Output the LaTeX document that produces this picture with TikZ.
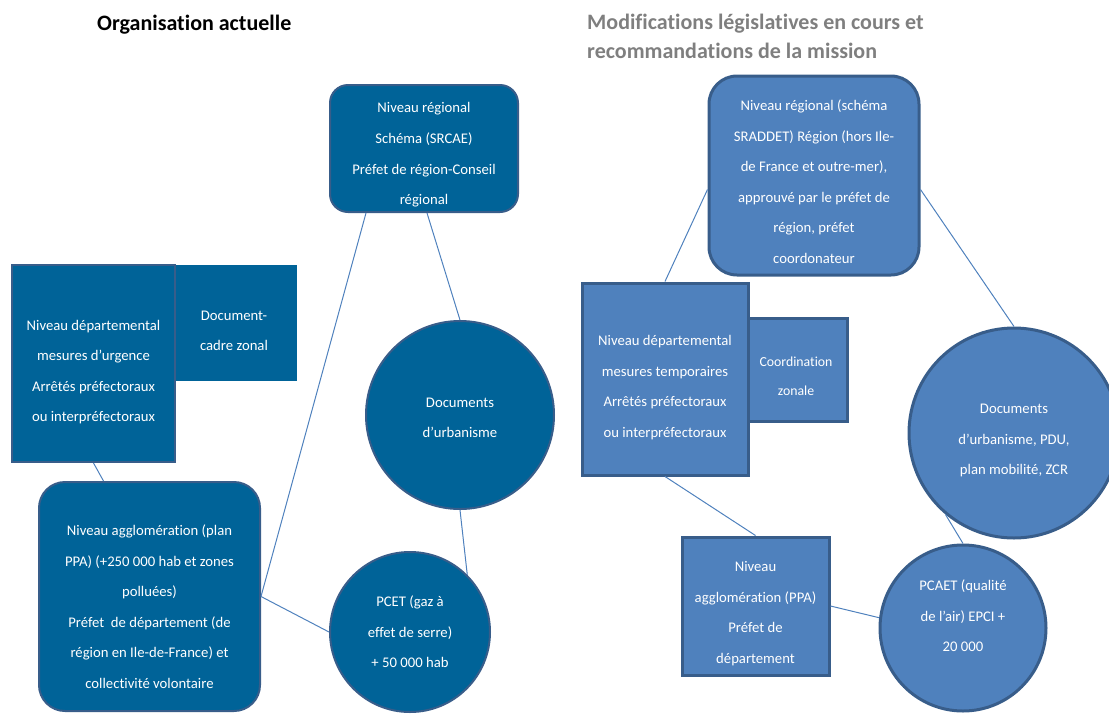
\documentclass[tikz,border=0pt]{standalone}
\usepackage{fontspec}
\setmainfont[Ligatures=NoCommon]{Carlito}
\usepackage{tikz}
\definecolor{darkfill}{RGB}{0,99,152}
\definecolor{lightfill}{RGB}{79,129,189}
\definecolor{edgecolor}{RGB}{56,93,138}
\definecolor{linkcolor}{RGB}{79,129,189}
\definecolor{titlegray}{RGB}{127,127,127}

\begin{document}
\begin{tikzpicture}[x=1pt, y=-1pt,
    box/.style={rectangle, text=white, align=center, inner sep=0pt, font=\fontsize{14.7}{30.6}\selectfont},
    oldbox/.style={box, fill=darkfill, draw=edgecolor, line width=2pt},
    newbox/.style={box, fill=lightfill, draw=edgecolor, line width=3pt},
    oldcircle/.style={oldbox, circle},
    newcircle/.style={newbox, circle},
    textdrop/.style={execute at begin node={\rule{0pt}{#1}}},
    textlift/.style={execute at end node={\rule[-#1]{0pt}{#1}}},
    link/.style={draw=linkcolor, line width=1pt},
    title/.style={font=\fontsize{22}{29}\selectfont\bfseries, inner sep=0pt, align=left},
]
    \useasboundingbox (0,0) rectangle (1109,713);

    % Titles
    \node[title, anchor=base west] (title_old) at (97, 30) {Organisation actuelle};
    \node[title, anchor=west, text=titlegray] (title_new) at (587, 36) {Modifications législatives en cours et\\recommandations de la mission};

    % Current organisation
    \node[oldbox, textdrop=115pt, rounded corners=18pt, minimum width=188pt, minimum height=127pt] (reg_old) at (424, 148.5) {Niveau régional\\Schéma (SRCAE)\\Préfet de région-Conseil\\régional};
    \node[oldbox, textdrop=56pt, draw=none, minimum width=126pt, minimum height=116pt] (zone_old) at (234, 323) {Document-\\cadre zonal};
    \node[oldbox, textdrop=119pt, minimum width=163pt, minimum height=197pt] (dept_old) at (93.5, 363.5) {Niveau départemental\\mesures d’urgence\\Arrêtés préfectoraux\\ou interpréfectoraux};
    \node[oldcircle, textdrop=46pt, minimum size=188pt] (urba_old) at (460, 415) {Documents\\d’urbanisme};
    \node[oldbox, textdrop=184pt, rounded corners=26pt, minimum width=221pt, minimum height=229pt] (aggl_old) at (149.5, 596.5) {Niveau agglomération (plan\\PPA) (+250 000 hab et zones\\polluées)\\Préfet~ de département (de\\région en Ile-de-France) et\\collectivité volontaire};
    \node[oldcircle, minimum size=160pt] (pcet_old) at (410, 632) {PCET (gaz à\\effet de serre)\\+ 50 000 hab};

    % Links
    \draw[link] ([xshift=-58pt]reg_old.south) -- (aggl_old.east);
    \draw[link] ([xshift=3pt]reg_old.south) -- (urba_old.north);
    \draw[link] (dept_old.south) -- ([xshift=-46pt]aggl_old.north);
    \draw[link] (aggl_old.east) -- (pcet_old.west);
    \draw[link] (urba_old.south) -- (pcet_old.45);

    % Changes and recommendations
    \node[newbox, textdrop=176pt, rounded corners=28pt, minimum width=210pt, minimum height=199pt] (reg_new) at (814, 175.5) {Niveau régional (schéma\\SRADDET) Région (hors Ile-\\de France et outre-mer),\\approuvé par le préfet de\\région, préfet\\coordonateur};
    \node[newbox, textdrop=52pt, minimum width=102pt, minimum height=103pt, font=\fontsize{13.8}{29}\selectfont] (zone_new) at (796, 369.5) {Coordination\\zonale};
    \node[newbox, textdrop=119pt, minimum width=166pt, minimum height=192pt] (dept_new) at (665, 379) {Niveau départemental\\mesures temporaires\\Arrêtés préfectoraux\\ou interpréfectoraux};
    \node[newcircle, textdrop=86pt, minimum size=210pt] (urba_new) at (1014, 433) {Documents\\d’urbanisme, PDU,\\plan mobilité, ZCR};
    \node[newbox, textdrop=117pt, minimum width=147pt, minimum height=138pt] (aggl_new) at (755.5, 606) {Niveau\\agglomération (PPA)\\Préfet de\\département};
    \node[newcircle, textlift=24pt, minimum size=166pt] (pcaet_new) at (963, 628) {PCAET (qualité\\de l’air) EPCI +\\20 000};

    % Links
    \draw[link] ([yshift=-14pt]reg_new.west) -- (dept_new.north);
    \draw[link] ([yshift=-14pt]reg_new.east) -- (urba_new.north);
    \draw[link] (dept_new.south) -- (aggl_new.north);
    \draw[link] (aggl_new.east) -- (pcaet_new.173);
    \draw[link] (urba_new.230) -- (pcaet_new.north);
\end{tikzpicture}
\end{document}
